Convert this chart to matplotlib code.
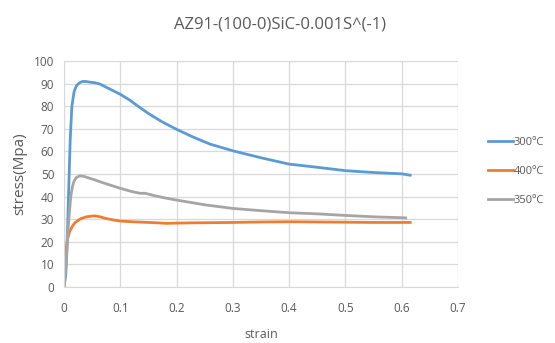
import matplotlib
matplotlib.use("Agg")
import matplotlib.pyplot as plt

plt.rcParams['font.family'] = ['Open Sans', 'DejaVu Sans']

x300 = [0, 0.003, 0.005, 0.008, 0.011, 0.014, 0.018, 0.022, 0.027, 0.032, 0.037, 0.045, 0.055, 0.064, 0.08, 0.1, 0.117, 0.13, 0.15, 0.175, 0.2, 0.23, 0.26, 0.3, 0.35, 0.4, 0.45, 0.5, 0.55, 0.6, 0.615]
y300 = [0, 5, 15, 40, 65, 80, 86.5, 89, 90.3, 90.9, 91, 90.7, 90.4, 89.8, 87.8, 85.3, 82.7, 80.3, 76.8, 73, 69.8, 66.3, 63.2, 60.3, 57.2, 54.4, 53, 51.5, 50.7, 50.1, 49.5]

x400 = [0, 0.003, 0.006, 0.01, 0.015, 0.02, 0.03, 0.04, 0.05, 0.055, 0.064, 0.075, 0.09, 0.1, 0.13, 0.16, 0.182, 0.22, 0.26, 0.3, 0.35, 0.4, 0.45, 0.5, 0.55, 0.615]
y400 = [0, 15, 21, 24.5, 27, 28.6, 30.3, 31.1, 31.4, 31.5, 31.1, 30.3, 29.6, 29.2, 28.8, 28.5, 28.2, 28.4, 28.5, 28.6, 28.8, 28.9, 28.8, 28.7, 28.6, 28.6]

x350 = [0, 0.003, 0.0047, 0.008, 0.012, 0.015, 0.018, 0.022, 0.028, 0.035, 0.045, 0.055, 0.064, 0.08, 0.1, 0.12, 0.135, 0.144, 0.16, 0.18, 0.2, 0.25, 0.3, 0.35, 0.4, 0.45, 0.5, 0.55, 0.6, 0.607]
y350 = [0, 8, 15, 28, 40, 44.5, 47, 48.5, 49.2, 49, 48.2, 47.4, 46.6, 45.3, 43.7, 42.3, 41.5, 41.5, 40.5, 39.4, 38.5, 36.4, 34.8, 33.8, 32.9, 32.4, 31.7, 31.1, 30.7, 30.6]

xticks = [0, 0.1, 0.2, 0.3, 0.4, 0.5, 0.6, 0.7]
yticks = list(range(0, 101, 10))

txt = '#595959'
fig = plt.figure(figsize=(5.55, 3.43), dpi=100)
ax = fig.add_axes([0.1153, 0.163, 0.71, 0.659])
ax.plot(x300, y300, color='#5B9BD5', lw=2, label='300ºC')
ax.plot(x400, y400, color='#ED7D31', lw=2, label='400ºC')
ax.plot(x350, y350, color='#A5A5A5', lw=2, label='350ºC')
ax.set_xlim(0, 0.7)
ax.set_ylim(0, 100)
ax.set_xticks(xticks)
ax.set_xticklabels(['0'] + [f'{v:g}' for v in xticks[1:]])
ax.set_yticks(yticks)
ax.grid(True, color='#D9D9D9', lw=0.9)
ax.set_axisbelow(True)
for s in ax.spines.values():
    s.set_visible(False)
ax.spines['bottom'].set_visible(True)
ax.spines['bottom'].set_color('#D9D9D9')
ax.spines['left'].set_visible(True)
ax.spines['left'].set_color('#D9D9D9')
ax.tick_params(length=0, colors=txt, labelsize=8.5)
ax.tick_params(axis='x', pad=11)
ax.tick_params(axis='y', pad=7)
ax.set_xlabel('strain', color=txt, fontsize=9, labelpad=9)
ax.set_ylabel('stress(Mpa)', color=txt, fontsize=11, labelpad=5)
fig.text(0.505, 0.928, 'AZ91-(100-0)SiC-0.001S^(-1)', ha='center', va='center', color=txt, fontsize=12)
leg = fig.legend(loc='center left', bbox_to_anchor=(0.862, 0.5), frameon=False,
                 fontsize=8, labelcolor=txt, handlelength=2.2, handletextpad=0.1, labelspacing=1.6)
fig.savefig('out.png', dpi=100)
